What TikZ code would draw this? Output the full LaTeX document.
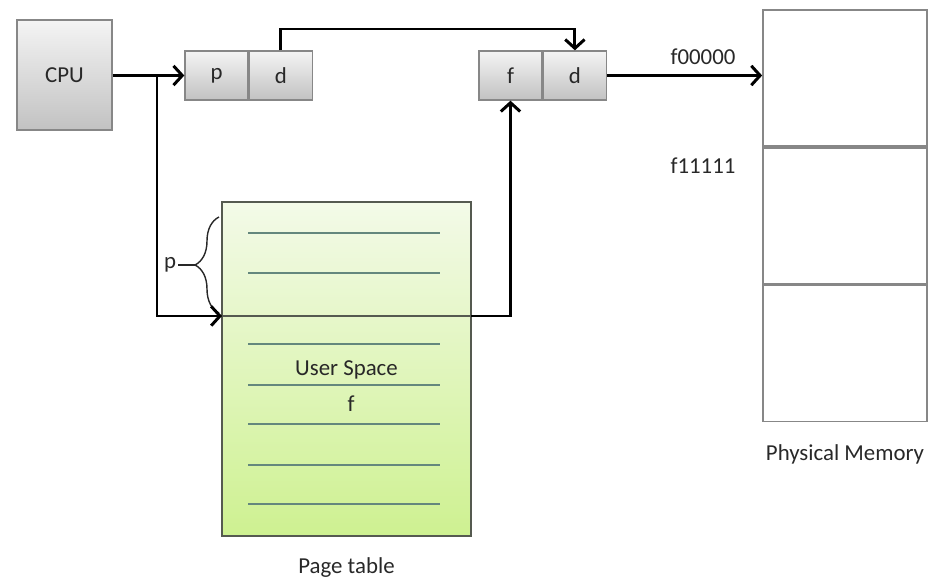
\documentclass[tikz,border=0pt]{standalone}
\usepackage{fontspec}
\setmainfont{Carlito}
\usepackage{xcolor}
\usepackage{tikz}
\usetikzlibrary{arrows.meta, positioning, calc, decorations.pathreplacing}
\definecolor{cellborder}{RGB}{135,135,135}
\definecolor{celltop}{RGB}{244,244,244}
\definecolor{cellbottom}{RGB}{194,194,194}
\definecolor{tabletop}{RGB}{243,250,232}
\definecolor{tablebottom}{RGB}{206,241,145}
\definecolor{tableborder}{RGB}{85,90,80}
\definecolor{rowcolor}{RGB}{100,135,125}
\definecolor{labeltext}{RGB}{40,40,40}
\tikzset{
    cell/.style={rectangle, minimum width=1.26cm, minimum height=0.98cm, inner sep=0pt, text centered, draw=cellborder, line width=0.8pt, top color=celltop, bottom color=cellbottom, text=labeltext},
    cpubox/.style={cell, minimum width=1.9cm, minimum height=2.2cm},
    pagetable/.style={rectangle, minimum width=4.98cm, minimum height=6.68cm, inner sep=0pt, draw=tableborder, line width=1pt, top color=tabletop, bottom color=tablebottom},
    memcell/.style={rectangle, minimum width=3.28cm, minimum height=2.72cm, inner sep=0pt, draw=cellborder, line width=1pt, fill=white},
    rowline/.style={draw=rowcolor, line width=0.8pt},
    label/.style={text=labeltext},
    arrow/.style={line width=1.7pt, -{Straight Barb[length=5pt, width=11pt, line width=1.7pt]}, color=black},
    brace/.style={draw=labeltext, line width=0.8pt, decorate, decoration={brace, amplitude=0.48cm}}
}

\begin{document}
\begin{tikzpicture}[x=0.02cm, y=-0.02cm, font=\fontsize{13}{15}\selectfont]
    \useasboundingbox (0,0) rectangle (931,578);

    % Nodes
    \node (cpu) [cpubox] at (64.5,75) {CPU};
    \node (pcell) [cell] at (216.5,75.5) {p};
    \node (dcell) [cell, right=0pt of pcell] {d};
    \node (fcell) [cell] at (510.5,75.5) {f};
    \node (offcell) [cell, right=0pt of fcell] {d};

    % Page table
    \node (ptable) [pagetable] at (346.5,369) {};
    \foreach \y in {233,273,344,385,424,465,504}
        \draw [rowline] (248,\y) -- (440,\y);
    \draw [rowline, draw=tableborder] (222,316) -- (471,316);
    \node (userspace) [label] at (346.5,370) {User Space};
    \node (frame) [label] at (351,404) {f};
    \node (ptlabel) [label, below=0.3cm of ptable] {Page table};

    % Physical memory
    \node (mem1) [memcell] at (845,78) {};
    \node (mem2) [memcell, below=0pt of mem1] {};
    \node (mem3) [memcell, below=0pt of mem2] {};
    \node (memlabel) [label, below=0.32cm of mem3] {Physical Memory};
    \node (fzero) [label] at (703,57) {f00000};
    \node (fone) [label] at (703,166) {f11111};

    % Brace
    \coordinate (bracebot) at (219,313);
    \coordinate (bracetop) at (219,217);
    \coordinate (bracetip) at (195,265);
    \draw [brace] (bracebot) -- (bracetop);
    \node (plabel) [label, inner sep=1pt] at (170,265) {p};
    \draw [draw=labeltext, line width=0.8pt] (plabel.east) -- (bracetip);

    % Arrows
    \coordinate (split) at (157,75.5);
    \coordinate (entry) at (222,316);
    \coordinate (exit) at (471,316);
    \coordinate (top) at (0,29);
    \draw [arrow] (cpu.east |- pcell.west) -- (pcell.west);
    \draw [arrow] (split) |- (entry);
    \draw [arrow] (dcell.north) -- (dcell.north |- top) -- (offcell.north |- top) -- (offcell.north);
    \draw [arrow] (exit) -| (fcell.south);
    \draw [arrow] (offcell.east) -- (mem1.west |- offcell.east);
\end{tikzpicture}
\end{document}
